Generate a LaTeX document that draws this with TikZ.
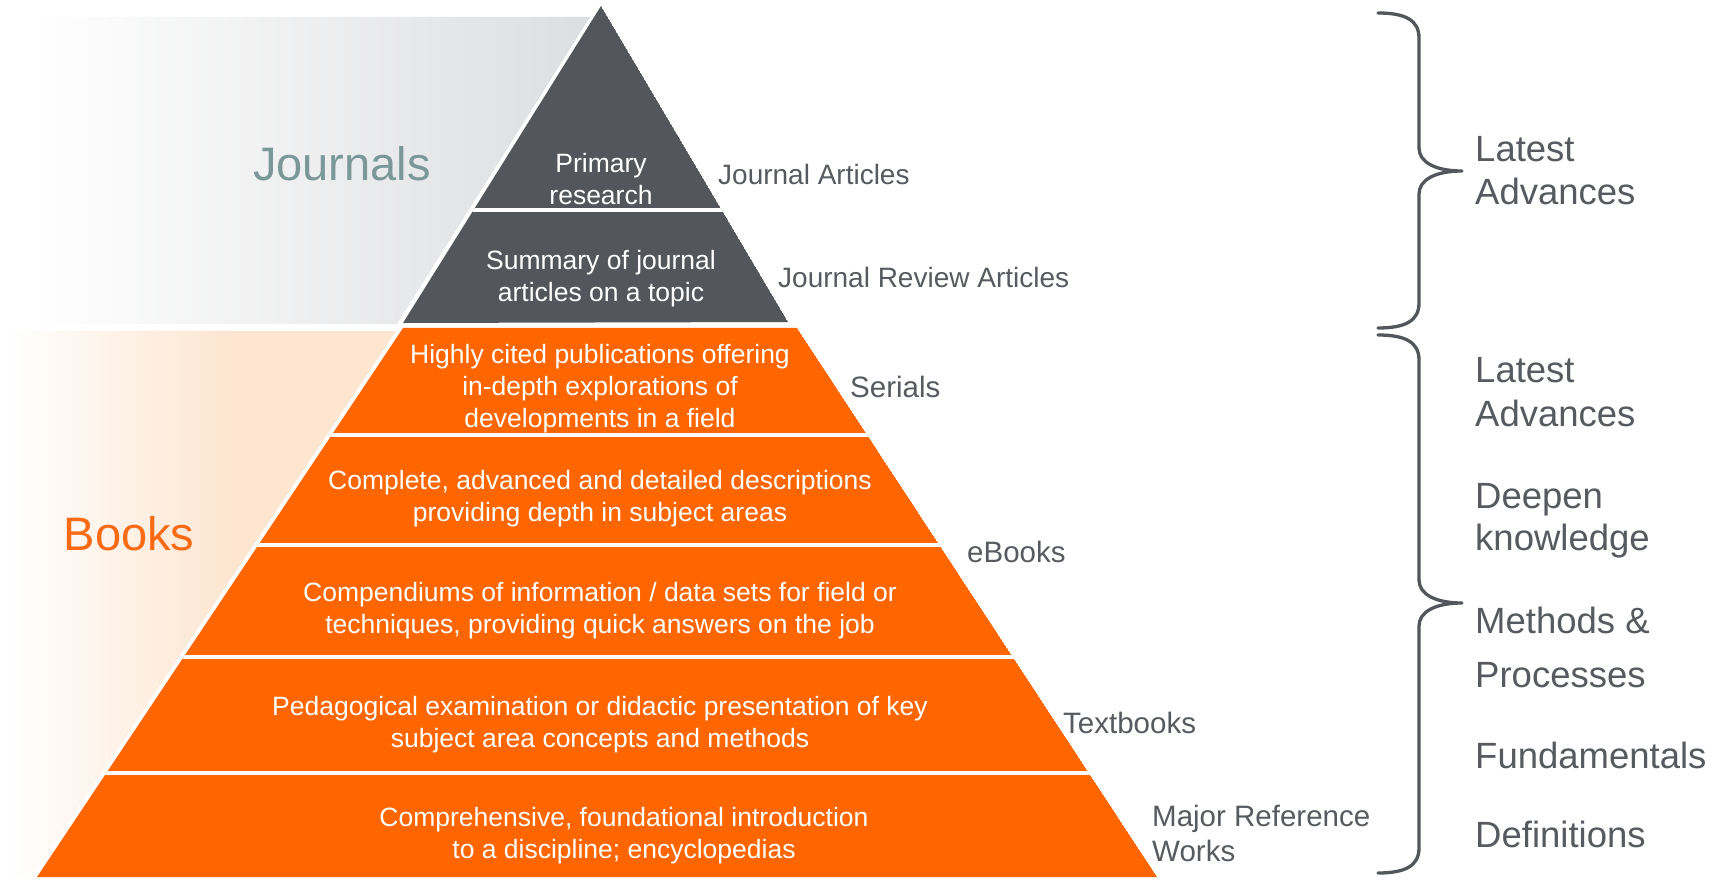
\documentclass[tikz,border=0pt]{standalone}
\usepackage{fontspec}
\setmainfont{Liberation Sans}
\definecolor{orng}{RGB}{255,102,0}
\definecolor{dark}{RGB}{83,86,90}
\definecolor{lblgray}{RGB}{87,90,95}
\definecolor{jgray}{RGB}{221,222,224}
\definecolor{peach}{RGB}{253,229,208}
\definecolor{tealgray}{RGB}{122,152,152}
\definecolor{bookor}{RGB}{250,106,20}
\begin{document}
\begin{tikzpicture}[x=1pt,y=-1pt,
  intext/.style={text=white, align=center, font=\fontsize{26.5}{32}\selectfont, inner sep=0pt},
  side/.style={text=lblgray, anchor=west, align=left, font=\fontsize{28}{35}\selectfont, inner sep=0pt},
  sidebig/.style={side, font=\fontsize{29.5}{35}\selectfont},
  big/.style={text=lblgray, anchor=base west, font=\fontsize{36.5}{43}\selectfont, inner sep=0pt},
  bracestyle/.style={draw=dark, line width=3.3pt, line cap=round, line join=round}
]
\useasboundingbox (0,0) rectangle (1725,882);
\fill[white] (0,0) rectangle (1725,882);

% backgrounds
\shade[left color=white, right color=jgray] (30,17) -- (590,17) -- (397,324) -- (30,324) -- cycle;
\begin{scope}
\clip (8,331) -- (396,331) -- (32,877) -- (8,877) -- cycle;
\shade[left color=white, right color=peach] (8,331) rectangle (232,877);
\fill[peach] (230,331) rectangle (400,877);
\end{scope}

% journal triangle
\begin{scope}
\clip (601,6) -- (788,322) -- (403,323) -- cycle;
\fill[dark] (601,6) -- (788,322) -- (403,323) -- cycle;
\draw[white, line width=3.5pt] (300,210) -- (900,210);
\end{scope}

% books trapezoid
\begin{scope}
\clip (403,328) -- (797,328) -- (1157,877) -- (37,877) -- cycle;
\fill[orng] (403,328) -- (797,328) -- (1157,877) -- (37,877) -- cycle;
\foreach \yy in {435,545,657,773}{
  \draw[white, line width=3.5pt] (0,\yy) -- (1300,\yy);
}
\end{scope}

% section titles
\node[text=tealgray, font=\fontsize{47}{56}\selectfont, inner sep=0pt] (journals) at (342,164) {Journals};
\node[text=bookor, font=\fontsize{47}{56}\selectfont, inner sep=0pt] (books) at (129,534) {Books};

% inner texts
\node[intext] (j1) at (601,179) {Primary\\research};
\node[intext] (j2) at (601,279) {Summary of journal\\articles on a topic};
\node[intext] (b1) at (600,389) {Highly cited publications offering\\in-depth explorations of\\developments in a field};
\node[intext] (b2) at (600,499) {Complete, advanced and detailed descriptions\\providing depth in subject areas};
\node[intext] (b3) at (600,611) {Compendiums of information / data sets for field or\\techniques, providing quick answers on the job};
\node[intext] (b4) at (600,725) {Pedagogical examination or didactic presentation of key\\subject area concepts and methods};
\node[intext] (b5) at (624,836) {Comprehensive, foundational introduction\\to a discipline; encyclopedias};

% side labels
\node[side] (l1) at (718,174) {Journal Articles};
\node[side] (l2) at (778,277) {Journal Review Articles};
\node[sidebig] (l3) at (850,387) {Serials};
\node[sidebig] (l4) at (967,552) {eBooks};
\node[sidebig] (l5) at (1063,723) {Textbooks};
\node[sidebig] (l6) at (1152,833) {Major Reference\\Works};

% braces
\draw[bracestyle] (1378,13) .. controls (1405,13) and (1419,20) .. (1419,38)
  -- (1419,148) .. controls (1419,162) and (1435,171) .. (1462,171)
  .. controls (1435,171) and (1419,180) .. (1419,194)
  -- (1419,303) .. controls (1419,321) and (1405,328) .. (1378,328);
\draw[bracestyle] (1378,335) .. controls (1405,335) and (1419,342) .. (1419,360)
  -- (1419,580) .. controls (1419,594) and (1435,603) .. (1462,603)
  .. controls (1435,603) and (1419,612) .. (1419,626)
  -- (1419,848) .. controls (1419,866) and (1405,873) .. (1378,873);

% right labels
\node[big] (r1a) at (1475,162) {Latest};
\node[big] (r1b) at (1475,205) {Advances};
\node[big] (r2a) at (1475,383) {Latest};
\node[big] (r2b) at (1475,427) {Advances};
\node[big] (r3a) at (1475,508) {Deepen};
\node[big] (r3b) at (1475,550) {knowledge};
\node[big] (r4a) at (1475,633) {Methods \&};
\node[big] (r4b) at (1475,687) {Processes};
\node[big] (r5) at (1475,768) {Fundamentals};
\node[big] (r6) at (1475,847) {Definitions};
\end{tikzpicture}
\end{document}
